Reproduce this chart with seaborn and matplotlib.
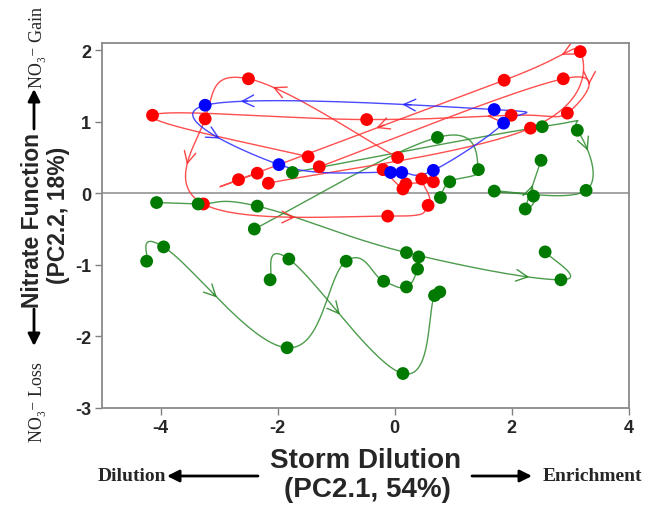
import numpy as np
import pandas as pd
import matplotlib
matplotlib.use('Agg')
import matplotlib.pyplot as plt
import seaborn as sns

sns.set_theme(style='white')
plt.rcParams['font.family'] = ['Liberation Sans', 'DejaVu Sans']

# ---------------- data ----------------
red_x = [3.17, 1.87, 2.88, 2.95, 1.99, 2.32, -2.50, -4.14, -3.24, -1.48, -1.29, -2.67,
         -2.35, -2.16, -3.27, -0.48, 0.05, -0.20, 0.19, 0.14, 0.46, 0.66, 0.57, -0.12]
red_y = [1.98, 1.58, 1.60, 1.12, 1.09, 0.91, 1.60, 1.09, 1.04, 0.51, 0.37, 0.19,
         0.28, 0.14, -0.15, 1.03, 0.50, 0.33, 0.13, 0.06, 0.20, 0.16, -0.17, -0.32]
red_events = [[13, 5, 0, 1, 11, 12],
              [10, 2, 3, 4, 15, 7, 9],
              [16, 6, 8, 14, 23, 22, 20, 21, 18, 19, 17]]
red_arrows = [(0, 2, 0.55), (0, 3, 0.45), (1, 1, 0.4), (1, 3, 0.2), (2, 0, 0.8), (2, 2, 0.5), (2, 3, 0.5)]

green_x = [-1.75, -4.07, -3.36, -2.35, -2.40, -3.95, -4.24, -1.81, -2.13, -0.83, -1.84,
           -0.19, 0.20, 0.41, 0.39, 0.20, 0.68, 0.77, 0.14, 2.57, 2.84, 0.94, 1.70,
           0.78, 2.37, 2.23, 3.27, 2.52, 3.12, 0.73, 2.50, 1.43]
green_y = [0.29, -0.13, -0.15, -0.18, -0.50, -0.75, -0.95, -0.92, -1.21, -0.95, -2.16,
           -1.23, -0.83, -0.89, -1.06, -1.31, -1.43, -1.38, -2.52, -0.82, -1.21, 0.16, 0.03,
           -0.06, -0.04, -0.22, 0.04, 0.93, 0.88, 0.78, 0.46, 0.33]
green_events = [[1, 2, 3, 12, 20, 19],
                [6, 5, 10, 9, 11, 15, 14, 13],
                [8, 7, 18, 16, 17],
                [4, 29, 31, 21, 23],
                [0, 27, 28, 26, 22, 24, 25, 30]]
green_arrows = [(0, 3, 0.7), (1, 1, 0.45), (2, 1, 0.45), (4, 2, 0.35), (4, 6, 0.5)]

blue_x = [1.70, 1.86, -3.24, -1.98, -0.07, 0.12, 0.66]
blue_y = [1.17, 0.98, 1.23, 0.40, 0.29, 0.29, 0.32]
blue_events = [[4, 5, 6, 1, 0, 2, 3, 4]]
blue_arrows = [(0, 4, 0.33), (0, 4, 0.82), (0, 5, 0.55)]

x_ticks = [-4, -2, 0, 2, 4]
y_ticks = [-3, -2, -1, 0, 1, 2]

# ---------------- helpers ----------------
def spline(px, py, n=40, k=0.6):
    P = np.column_stack([px, py]).astype(float)
    m = len(P)
    segs = []
    for i in range(m - 1):
        p0 = P[i - 1] if i > 0 else P[i]
        p1, p2 = P[i], P[i + 1]
        p3 = P[i + 2] if i + 2 < m else P[i + 1]
        m1 = k * (p2 - p0)
        m2 = k * (p3 - p1)
        t = np.linspace(0, 1, n)[:, None]
        h00 = 2 * t**3 - 3 * t**2 + 1
        h10 = t**3 - 2 * t**2 + t
        h01 = -2 * t**3 + 3 * t**2
        h11 = t**3 - t**2
        segs.append(h00 * p1 + h10 * m1 + h01 * p2 + h11 * m2)
    return segs

fig = plt.figure(figsize=(6.55, 5.06), dpi=100)
ax = fig.add_axes([0.156, 0.192, 0.804, 0.721])

ax.axhline(0, color='#8a8a8a', lw=1.1, zorder=1)

def draw_series(xs, ys, events, arrows, lc):
    all_segs = []
    for ev in events:
        segs = spline([xs[i] for i in ev], [ys[i] for i in ev])
        all_segs.append(segs)
        curve = np.vstack(segs)
        df = pd.DataFrame({'x': curve[:, 0], 'y': curve[:, 1]})
        sns.lineplot(data=df, x='x', y='y', sort=False, estimator=None,
                     color=lc, lw=1.0, alpha=0.85, ax=ax, zorder=2)
    for (e, s, f) in arrows:
        seg = all_segs[e][s]
        j = int(f * (len(seg) - 1))
        j = min(max(j, 1), len(seg) - 2)
        p = seg[j]
        q = seg[j + 1]
        ax.annotate('', xy=(q[0], q[1]), xytext=(p[0], p[1]),
                    arrowprops=dict(arrowstyle='->,head_length=0.7,head_width=0.35',
                                    color=lc, lw=1.0, alpha=0.9, shrinkA=0, shrinkB=0),
                    zorder=2)

draw_series(green_x, green_y, green_events, green_arrows, '#2e8b2e')
draw_series(red_x, red_y, red_events, red_arrows, '#ff3030')
draw_series(blue_x, blue_y, blue_events, blue_arrows, '#2a2aff')

sns.scatterplot(x=red_x, y=red_y, color='#ff0000', s=85, edgecolor='none', ax=ax, zorder=3)
sns.scatterplot(x=green_x, y=green_y, color='#007a00', s=85, edgecolor='none', ax=ax, zorder=4)
sns.scatterplot(x=blue_x, y=blue_y, color='#0000ff', s=85, edgecolor='none', ax=ax, zorder=5)

ax.set_xlim(-5, 4)
ax.set_ylim(-3, 2.1)
ax.set_xticks(x_ticks)
ax.set_yticks(y_ticks)
ax.set_xticklabels([str(t) for t in x_ticks], fontsize=13, fontweight='bold')
ax.set_yticklabels([str(t) for t in y_ticks], fontsize=13, fontweight='bold')
ax.tick_params(axis='both', direction='out', length=5, width=1, color='#808080',
               bottom=True, left=True, pad=3)
ax.set_xlabel('')
ax.set_ylabel('')
for sp in ax.spines.values():
    sp.set_color('#8a8a8a')
    sp.set_linewidth(1.3)

W, H = 655.0, 506.0
def fx(px):
    return px / W
def fy(py):
    return 1 - py / H

serif = ['Liberation Serif', 'DejaVu Serif']

# y-axis label
fig.text(fx(33), fy(221), 'Nitrate Function', rotation=90, fontsize=16.5,
         fontweight='bold', ha='center', va='center')
fig.text(fx(58), fy(215), '(PC2.2, 18%)', rotation=90, fontsize=16.5,
         fontweight='bold', ha='center', va='center')
fig.text(fx(37), fy(47), 'NO\u2083\u207b Gain', rotation=90, fontsize=13,
         family=serif, ha='center', va='center')
fig.text(fx(37), fy(402), 'NO\u2083\u207b Loss', rotation=90, fontsize=13,
         family=serif, ha='center', va='center')
arrow_kw = dict(arrowstyle='-|>,head_length=0.6,head_width=0.3', color='black', lw=2,
                shrinkA=0, shrinkB=0)
ax.annotate('', xy=(fx(34), fy(90)), xytext=(fx(34), fy(130)),
            xycoords='figure fraction', textcoords='figure fraction', arrowprops=arrow_kw)
ax.annotate('', xy=(fx(34), fy(347)), xytext=(fx(34), fy(310)),
            xycoords='figure fraction', textcoords='figure fraction', arrowprops=arrow_kw)

# x-axis label
fig.text(fx(366), fy(461), 'Storm Dilution', fontsize=20, fontweight='bold',
         ha='center', va='center')
fig.text(fx(367), fy(490), '(PC2.1, 54%)', fontsize=20, fontweight='bold',
         ha='center', va='center')
fig.text(fx(132), fy(477), 'Dilution', fontsize=14, fontweight='bold', family=serif,
         ha='center', va='center')
fig.text(fx(592), fy(477), 'Enrichment', fontsize=14, fontweight='bold', family=serif,
         ha='center', va='center')
ax.annotate('', xy=(fx(167), fy(477)), xytext=(fx(258), fy(477)),
            xycoords='figure fraction', textcoords='figure fraction', arrowprops=arrow_kw)
ax.annotate('', xy=(fx(532), fy(477)), xytext=(fx(472), fy(477)),
            xycoords='figure fraction', textcoords='figure fraction', arrowprops=arrow_kw)

fig.savefig('out.png', dpi=100)
